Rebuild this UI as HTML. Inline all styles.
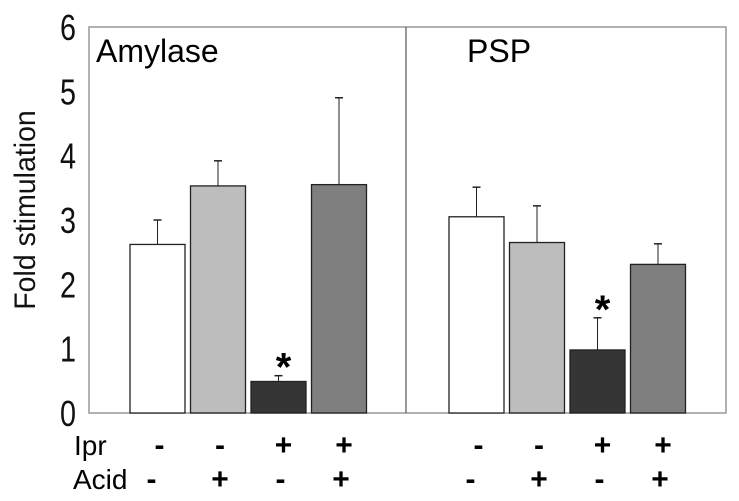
<!DOCTYPE html>
<html><head><meta charset="utf-8"><style>
body{margin:0;background:#fff}
svg{display:block;font-family:"Liberation Sans",sans-serif}
</style></head><body>
<svg id="c" width="739" height="501"></svg>
<script>
const categories=["Ipr- Acid-","Ipr- Acid+","Ipr+ Acid-","Ipr+ Acid+"];
const amylaseValues=[2.62,3.53,0.49,3.55];
const amylaseErrTop=[3.0,3.92,0.58,4.9];
const pspValues=[3.05,2.65,0.98,2.31];
const pspErrTop=[3.51,3.22,1.48,2.63];
const yTicks=[0,1,2,3,4,5,6];
const iprSigns=["-","-","+","+"];
const acidSigns=["-","+","-","+"];
const sigAmylase=[false,false,true,false];
const sigPsp=[false,false,true,false];
const fills=["#ffffff","#bdbdbd","#353535","#7f7f7f"];
const NS="http://www.w3.org/2000/svg";
const svg=document.getElementById('c');
const y0=413,y6=27,L=89,R=726;
function y(v){return y0-(y0-y6)*v/6;}
function mk(t,a,p){const e=document.createElementNS(NS,t);for(const k in a)e.setAttribute(k,a[k]);(p||svg).appendChild(e);return e;}
const frame=mk('rect',{x:L,y:y6,width:R-L,height:y0-y6,fill:'none',stroke:'#999','stroke-width':1.5});


const div=mk('line',{x1:406,x2:406,y1:y6,y2:y0,stroke:'#555','stroke-width':1.2});


yTicks.forEach(t=>{const e=mk('text',{x:76/0.8,y:y(t)+13,'text-anchor':'end','font-size':36,fill:'#111',transform:'scale(0.8,1)'});
e.textContent=t;

});
const yt=mk('text',{x:0,y:0,'font-size':30,'text-anchor':'middle',fill:'#111',transform:'translate(35,210) rotate(-90) scale(0.95,1)'});
yt.textContent='Fold stimulation';


function panel(x0,vals,errs,sig,name,tx,label){
  const t=mk('text',{x:tx,y:62,'font-size':32,fill:'#000'});t.textContent=label;
  
  
  vals.forEach((v,i)=>{
    const bx=x0+i*60.5,cx=bx+27.5;
    const el=mk('line',{x1:cx,x2:cx,y1:y(errs[i]),y2:y(v),stroke:'#222','stroke-width':1});
    
    
    const cap=mk('line',{x1:cx-4,x2:cx+4,y1:y(errs[i]),y2:y(errs[i]),stroke:'#222','stroke-width':1.5});
    
    
    const b=mk('rect',{x:bx,y:y(v),width:55,height:y0-y(v),fill:fills[i],stroke:'#222','stroke-width':1.3});
    
    
    if(sig[i]){const s=mk('text',{x:cx+5,y:y(errs[i])+5,'text-anchor':'middle','font-size':40,'font-weight':'bold',fill:'#000'});s.textContent='*';
      
      }
    const a=mk('text',{x:cx+(i>=2?5:2),y:455,'text-anchor':'middle','font-size':30,'font-weight':'bold'});a.textContent=iprSigns[i];
    
    
    const c=mk('text',{x:cx+(i==0?-6:2),y:489,'text-anchor':'middle','font-size':30,'font-weight':'bold'});c.textContent=acidSigns[i];
    
    
  });
}
panel(130,amylaseValues,amylaseErrTop,sigAmylase,'amylase',96,'Amylase');
panel(449,pspValues,pspErrTop,sigPsp,'psp',467,'PSP');
const ip=mk('text',{x:74,y:455,'font-size':28});ip.textContent='Ipr';


const ac=mk('text',{x:73,y:489,'font-size':28});ac.textContent='Acid';


</script>
</body></html>
